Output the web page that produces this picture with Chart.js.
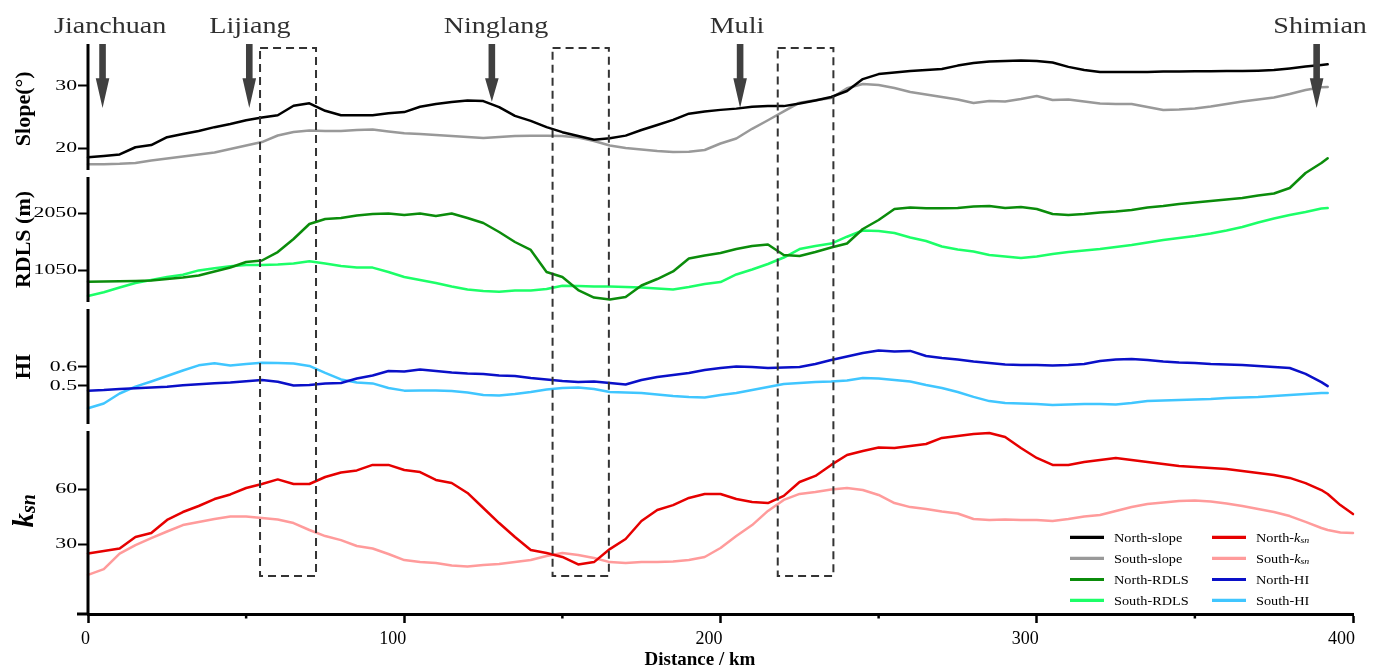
<!DOCTYPE html>
<html>
<head>
<meta charset="utf-8">
<script src="https://cdn.jsdelivr.net/npm/chart.js@4.4.1/dist/chart.umd.min.js"></script>
<style>
  html, body { margin: 0; padding: 0; background: #fff; }
  #wrap { width: 1386px; height: 671px; }
</style>
</head>
<body>
<div id="wrap"><canvas id="profile" width="1386" height="671"></canvas></div>
<script>
// Distance along the swath profile (km)
const distanceKm = [
  0, 5, 10, 15, 20, 25, 30, 35, 40, 45,
  50, 55, 60, 65, 70, 75, 80, 85, 90, 95,
  100, 105, 110, 115, 120, 125, 130, 135, 140, 145,
  150, 155, 160, 165, 170, 175, 180, 185, 190, 195,
  200, 205, 210, 215, 220, 225, 230, 235, 240, 245,
  250, 255, 260, 265, 270, 275, 280, 285, 290, 295,
  300, 305, 310, 315, 320, 325, 330, 335, 340, 345,
  350, 355, 360, 365, 370, 375, 380, 385, 390, 392, 396, 400
];

// Mean slope (degrees)
const northSlope = [
  18.6, 18.8, 19.05, 20.2, 20.55, 21.8, 22.3, 22.8, 23.4, 23.9,
  24.5, 24.95, 25.3, 26.8, 27.2, 26.0, 25.3, 25.3, 25.3, 25.6,
  25.8, 26.65, 27.1, 27.4, 27.65, 27.55, 26.6, 25.2, 24.4, 23.4,
  22.6, 22.0, 21.4, 21.65, 22.05, 22.95, 23.75, 24.55, 25.55, 25.9,
  26.15, 26.35, 26.65, 26.75, 26.75, 27.15, 27.65, 28.2, 29.15, 31.05,
  31.85, 32.1, 32.35, 32.5, 32.65, 33.2, 33.6, 33.85, 33.95, 34.0,
  33.95, 33.7, 33.0, 32.5, 32.2, 32.2, 32.2, 32.2, 32.25, 32.25,
  32.3, 32.3, 32.35, 32.35, 32.4, 32.5, 32.75, 33.05, 33.3, 33.4, null, null
];
const southSlope = [
  17.48, 17.5, 17.56, 17.7, 18.09, 18.41, 18.73, 19.04, 19.36, 19.92,
  20.48, 21.03, 22.07, 22.63, 22.87, 22.79, 22.79, 22.95, 23.03, 22.71,
  22.42, 22.3, 22.15, 21.99, 21.83, 21.67, 21.83, 21.99, 22.02, 22.04,
  21.99, 21.75, 21.19, 20.48, 20.08, 19.84, 19.6, 19.44, 19.49, 19.76,
  20.8, 21.6, 23.14, 24.5, 25.9, 27.3, 27.7, 28.05, 29.6, 30.27,
  30.11, 29.63, 29.0, 28.6, 28.2, 27.8, 27.25, 27.56, 27.48, 27.88,
  28.36, 27.72, 27.8, 27.48, 27.17, 27.09, 27.09, 26.6, 26.13, 26.21,
  26.37, 26.69, 27.09, 27.48, 27.8, 28.12, 28.68, 29.32, 29.75, 29.8, null, null
];

// Relief degree of land surface (m)
const northRdls = [
  844, 847, 852, 856, 865, 891, 918, 953, 1024, 1094,
  1191, 1218, 1367, 1597, 1861, 1950, 1967, 2011, 2038, 2046,
  2020, 2046, 2002, 2046, 1967, 1879, 1720, 1544, 1403, 1015,
  927, 697, 565, 530, 574, 777, 891, 1024, 1253, 1306,
  1350, 1420, 1473, 1500, 1315, 1297, 1367, 1447, 1517, 1773,
  1932, 2126, 2152, 2138, 2138, 2144, 2170, 2179, 2144, 2161,
  2126, 2038, 2020, 2038, 2064, 2082, 2108, 2152, 2179, 2214,
  2240, 2267, 2293, 2320, 2364, 2399, 2496, 2761, 2937, 3020, null, null
];
const southRdls = [
  591, 657, 741, 821, 874, 927, 967, 1043, 1080, 1115,
  1138, 1138, 1147, 1165, 1205, 1165, 1121, 1094, 1092, 1015,
  927, 874, 821, 759, 706, 680, 667, 688, 688, 715,
  773, 768, 759, 759, 750, 741, 724, 706, 750, 803,
  838, 971, 1059, 1156, 1270, 1420, 1473, 1517, 1637, 1747,
  1738, 1703, 1623, 1561, 1464, 1412, 1376, 1315, 1288, 1262,
  1288, 1332, 1367, 1394, 1420, 1456, 1491, 1535, 1579, 1614,
  1650, 1694, 1747, 1808, 1888, 1958, 2020, 2073, 2135, 2143, null, null
];

// Hypsometric integral
const northHi = [
  0.474, 0.477, 0.482, 0.487, 0.491, 0.495, 0.502, 0.508, 0.513, 0.517,
  0.523, 0.530, 0.521, 0.501, 0.504, 0.512, 0.514, 0.538, 0.554, 0.577,
  0.575, 0.585, 0.577, 0.569, 0.564, 0.562, 0.554, 0.551, 0.541, 0.533,
  0.525, 0.519, 0.522, 0.514, 0.506, 0.530, 0.546, 0.556, 0.567, 0.583,
  0.593, 0.601, 0.598, 0.593, 0.596, 0.598, 0.614, 0.635, 0.654, 0.672,
  0.685, 0.680, 0.683, 0.656, 0.646, 0.638, 0.627, 0.619, 0.612, 0.609,
  0.609, 0.606, 0.609, 0.614, 0.630, 0.638, 0.641, 0.635, 0.627, 0.622,
  0.619, 0.614, 0.612, 0.609, 0.604, 0.598, 0.593, 0.562, 0.519, 0.498, null, null
];
const southHi = [
  0.381, 0.406, 0.459, 0.495, 0.522, 0.551, 0.580, 0.607, 0.618, 0.606,
  0.614, 0.621, 0.619, 0.617, 0.604, 0.567, 0.533, 0.517, 0.512, 0.488,
  0.474, 0.475, 0.475, 0.472, 0.464, 0.451, 0.448, 0.456, 0.467, 0.480,
  0.488, 0.491, 0.483, 0.467, 0.464, 0.462, 0.454, 0.446, 0.441, 0.438,
  0.451, 0.462, 0.477, 0.493, 0.509, 0.514, 0.519, 0.522, 0.527, 0.541,
  0.538, 0.530, 0.522, 0.504, 0.488, 0.467, 0.441, 0.419, 0.409, 0.406,
  0.404, 0.398, 0.401, 0.404, 0.404, 0.401, 0.409, 0.419, 0.422, 0.425,
  0.427, 0.430, 0.435, 0.438, 0.441, 0.446, 0.451, 0.456, 0.462, 0.462, null, null
];

// Normalised channel steepness index
const northKsn = [
  25.0, 26.3, 27.7, 34.0, 36.2, 43.3, 47.6, 50.9, 54.7, 57.2,
  60.7, 62.9, 65.4, 62.9, 62.9, 66.7, 69.2, 70.3, 73.3, 73.3,
  70.5, 69.4, 65.1, 63.4, 58.0, 49.8, 41.6, 34.0, 26.9, 25.3,
  23.1, 19.0, 20.3, 27.4, 32.9, 42.7, 48.7, 51.4, 55.3, 57.4,
  57.4, 54.7, 53.1, 52.5, 56.4, 64.0, 67.3, 73.3, 78.7, 80.9,
  82.8, 82.5, 83.6, 84.7, 88.0, 89.1, 90.2, 90.7, 88.5, 82.5,
  77.1, 73.3, 73.3, 74.9, 76.0, 77.1, 76.0, 74.9, 73.8, 72.7,
  72.2, 71.6, 71.1, 70.0, 68.9, 67.8, 66.2, 63.4, 59.6, 57.4, 51.4, 46.5
];
const southKsn = [
  13.3, 16.5, 24.9, 29.6, 33.4, 37.0, 40.5, 42.2, 43.8, 45.2,
  45.2, 44.3, 43.5, 41.6, 37.8, 34.5, 32.3, 29.1, 27.7, 24.7,
  21.4, 20.3, 19.8, 18.4, 17.9, 18.7, 19.3, 20.3, 21.4, 23.6,
  25.3, 24.2, 22.5, 20.3, 19.8, 20.3, 20.3, 20.6, 21.4, 23.1,
  28.0, 34.5, 40.5, 48.2, 54.2, 57.5, 58.5, 59.9, 60.7, 59.6,
  56.9, 52.5, 50.3, 49.3, 47.9, 46.8, 43.8, 43.3, 43.5, 43.3,
  43.3, 42.7, 43.8, 45.2, 46.0, 48.2, 50.3, 52.0, 52.8, 53.6,
  53.9, 53.3, 52.3, 50.9, 49.3, 47.6, 45.4, 42.2, 38.9, 37.8, 36.4, 36.2
];

// Axis ticks
const xMajorTicks = [0, 100, 200, 300, 400];
const xMinorTicks = [50, 150, 250, 350];
const slopeTicks = [20, 30];
const rdlsTicks = [1050, 2050];
const hiTicks = [0.5, 0.6];
const ksnTicks = [30, 60];

// Towns along the profile and the three highlighted windows (km)
const placeNames = ['Jianchuan', 'Lijiang', 'Ninglang', 'Muli', 'Shimian'];
const placeKm = [4.6, 51.0, 127.7, 206.2, 388.5];
const placeLabelKm = [7.0, 51.2, 129.0, 205.2, 389.6];
const arrowTipSlope = [26.45, 26.45, 27.45, 26.45, 26.45];
const windowStartKm = [54.4, 146.9, 218.1];
const windowEndKm = [72.1, 164.7, 235.7];
const windowTopSlope = 36.0;
const windowBottomKsn = 12.7;

const SERIF = '"Liberation Serif", "Times New Roman", serif';
const toPoints = arr => distanceKm.map((d, i) => ({ x: d, y: arr[i] }));

function line(label, arr, color, axis) {
  return {
    label, data: toPoints(arr), yAxisID: axis, borderColor: color, backgroundColor: color,
    borderWidth: 2.5, pointRadius: 0, tension: 0, spanGaps: false, clip: false,
    borderJoinStyle: 'round', borderCapStyle: 'round'
  };
}

const datasets = [
  line('North-slope', northSlope, '#000000', 'slope'),
  line('South-slope', southSlope, '#999999', 'slope'),
  line('North-RDLS', northRdls, '#0b8c0b', 'rdls'),
  line('South-RDLS', southRdls, '#1cff68', 'rdls'),
  line('North-HI', northHi, '#0a10c8', 'hi'),
  line('South-HI', southHi, '#40c6ff', 'hi'),
  line('North-ksn', northKsn, '#e60000', 'ksn'),
  line('South-ksn', southKsn, '#ff9b9b', 'ksn')
];

function panelAxis(ticksArr, min, max, order, share, title) {
  return {
    type: 'linear', position: 'left', stack: 'profile', stackWeight: share, weight: order,
    min, max,
    afterBuildTicks: s => { s.ticks = ticksArr.map(v => ({ value: v })); },
    afterFit: s => { s.width = 88; },
    border: { display: false },
    grid: { drawOnChartArea: false, drawTicks: true, tickLength: 10, tickWidth: 2, tickColor: '#000' },
    ticks: { font: { family: SERIF, size: 15 }, color: '#000', padding: 1, callback: v => String(v) },
    title: title
      ? { display: true, text: title, color: '#000', font: { family: SERIF, size: 22, weight: 'bold' }, padding: { top: 11, bottom: 0 } }
      : { display: false }
  };
}

// Draws text squeezed/stretched horizontally around an anchor point
function stretchedText(ctx, text, x, y, font, sx, align) {
  ctx.save();
  ctx.translate(x, y);
  ctx.scale(sx, 1);
  ctx.font = font;
  ctx.textAlign = align || 'center';
  ctx.textBaseline = 'alphabetic';
  ctx.fillText(text, 0, 0);
  ctx.restore();
}

const decorations = {
  id: 'decorations',
  beforeDraw(chart) {
    const ctx = chart.ctx;
    ctx.save();
    ctx.fillStyle = '#fff';
    ctx.fillRect(0, 0, chart.width, chart.height);
    ctx.restore();
  },
  afterLayout(chart) {
    // widen the y tick numerals around their right edge
    for (const id of ['slope', 'rdls', 'hi', 'ksn']) {
      const s = chart.scales[id];
      if (!s || s._wide) continue;
      const orig = s.drawLabels;
      s.drawLabels = function (area) {
        const c = this.ctx;
        const ax = this.right - this.options.grid.tickLength - this.options.ticks.padding;
        c.save();
        c.translate(ax, 0); c.scale(1.45, 1); c.translate(-ax, 0);
        orig.call(this, area);
        c.restore();
      };
      s._wide = true;
    }
  },
  afterDraw(chart) {
    const ctx = chart.ctx;
    const xs = chart.scales.x;
    const ys = chart.scales.slope;
    const yk = chart.scales.ksn;
    const area = chart.chartArea;
    const panels = ['slope', 'rdls', 'hi', 'ksn'];

    ctx.save();
    // broken left spine, one piece per panel
    ctx.strokeStyle = '#000';
    ctx.lineWidth = 3;
    panels.forEach((id, i) => {
      const s = chart.scales[id];
      const top = s.top + (i === 0 ? 0 : 3.5);
      const bottom = s.bottom - (i === panels.length - 1 ? 0 : 3.5);
      ctx.beginPath();
      ctx.moveTo(area.left, top);
      ctx.lineTo(area.left, bottom);
      ctx.stroke();
    });
    // x axis runs a little past the spine
    ctx.beginPath();
    ctx.moveTo(area.left - 11, area.bottom);
    ctx.lineTo(area.left, area.bottom);
    ctx.stroke();
    // minor x ticks
    ctx.lineWidth = 2.5;
    xMinorTicks.forEach(v => {
      const px = xs.getPixelForValue(v);
      ctx.beginPath();
      ctx.moveTo(px, area.bottom);
      ctx.lineTo(px, area.bottom + 4.5);
      ctx.stroke();
    });

    // x axis title
    ctx.fillStyle = '#000';
    ctx.font = 'bold 19px ' + SERIF;
    ctx.textAlign = 'center';
    ctx.textBaseline = 'middle';
    ctx.fillText('Distance / km', xs.getPixelForValue(193.5), 660);

    // dashed windows
    ctx.strokeStyle = '#333';
    ctx.lineWidth = 2;
    ctx.setLineDash([8, 5]);
    const wTop = ys.getPixelForValue(windowTopSlope);
    const wBottom = yk.getPixelForValue(windowBottomKsn);
    windowStartKm.forEach((k, i) => {
      const l = xs.getPixelForValue(k);
      const r = xs.getPixelForValue(windowEndKm[i]);
      ctx.strokeRect(l, wTop, r - l, wBottom - wTop);
    });
    ctx.setLineDash([]);

    // town arrows and names
    ctx.fillStyle = '#404040';
    const aTop = ys.getPixelForValue(ys.max);
    const headStart = ys.getPixelForValue(31.2);
    placeKm.forEach((k, i) => {
      const px = xs.getPixelForValue(k);
      const tip = ys.getPixelForValue(arrowTipSlope[i]);
      const hs = Math.min(headStart, tip - 22);
      ctx.beginPath();
      ctx.moveTo(px - 3.3, aTop);
      ctx.lineTo(px + 3.3, aTop);
      ctx.lineTo(px + 3.3, hs);
      ctx.lineTo(px + 6.8, hs);
      ctx.lineTo(px, tip);
      ctx.lineTo(px - 6.8, hs);
      ctx.lineTo(px - 3.3, hs);
      ctx.closePath();
      ctx.fill();
    });
    ctx.fillStyle = '#303030';
    placeNames.forEach((name, i) => {
      stretchedText(ctx, name, xs.getPixelForValue(placeLabelKm[i]), 33, '24px ' + SERIF, 1.17, 'center');
    });

    // k_sn axis title
    const kc = (yk.top + yk.bottom) / 2 - 10;
    ctx.save();
    ctx.translate(33, kc);
    ctx.rotate(-Math.PI / 2);
    ctx.fillStyle = '#000';
    ctx.textBaseline = 'alphabetic';
    ctx.textAlign = 'left';
    ctx.font = 'italic bold 29px ' + SERIF;
    const wk = ctx.measureText('k').width;
    ctx.font = 'italic bold 20px ' + SERIF;
    const wsn = ctx.measureText('sn').width;
    const x0 = -(wk + wsn) / 2;
    ctx.font = 'italic bold 29px ' + SERIF;
    ctx.fillText('k', x0, 0);
    ctx.font = 'italic bold 20px ' + SERIF;
    ctx.fillText('sn', x0 + wk, 2);
    ctx.restore();

    // legend, two columns
    const cols = [[0, 1, 2, 3], [6, 7, 4, 5]];
    const colX = [1070, 1212];
    const rowY = [537.3, 558.3, 579.5, 600.3];
    cols.forEach((col, ci) => {
      col.forEach((di, ri) => {
        const ds = chart.data.datasets[di];
        const x = colX[ci];
        const y = rowY[ri];
        ctx.strokeStyle = ds.borderColor;
        ctx.lineWidth = 3.2;
        ctx.beginPath();
        ctx.moveTo(x, y);
        ctx.lineTo(x + 34, y);
        ctx.stroke();
        ctx.fillStyle = '#000';
        const tx = x + 44;
        const by = y + 4.5;
        if (ds.label.endsWith('ksn')) {
          const head = ds.label.slice(0, -3);
          ctx.save();
          ctx.translate(tx, by);
          ctx.scale(1.1, 1);
          ctx.textAlign = 'left';
          ctx.textBaseline = 'alphabetic';
          ctx.font = '13px ' + SERIF;
          ctx.fillText(head, 0, 0);
          let w = ctx.measureText(head).width;
          ctx.font = 'italic 13px ' + SERIF;
          ctx.fillText('k', w, 0);
          w += ctx.measureText('k').width;
          ctx.font = 'italic 9px ' + SERIF;
          ctx.fillText('sn', w, 1.5);
          ctx.restore();
        } else {
          stretchedText(ctx, ds.label, tx, by, '13px ' + SERIF, 1.1, 'left');
        }
      });
    });
    ctx.restore();
  }
};

new Chart(document.getElementById('profile'), {
  type: 'line',
  data: { datasets },
  plugins: [decorations],
  options: {
    responsive: false,
    animation: false,
    devicePixelRatio: 1,
    layout: { padding: { left: 0, right: 33, top: 44, bottom: 0 } },
    plugins: { legend: { display: false }, tooltip: { enabled: false } },
    scales: {
      x: {
        type: 'linear', position: 'bottom', min: 0, max: 400,
        afterBuildTicks: s => { s.ticks = xMajorTicks.map(v => ({ value: v })); },
        afterFit: s => { s.height = 57; },
        border: { display: true, color: '#000', width: 3 },
        grid: { drawOnChartArea: false, drawTicks: true, tickLength: 9, tickWidth: 2.5, tickColor: '#000' },
        ticks: { font: { family: SERIF, size: 18 }, color: '#000', align: 'end', labelOffset: 2, padding: 5, maxRotation: 0, callback: v => String(v) },
        title: { display: false, text: 'Distance / km' }
      },
      slope: panelAxis(slopeTicks, 16.02, 36.64, 4, 129.5, 'Slope(°)'),
      rdls: panelAxis(rdlsTicks, 424, 2752, 3, 132, 'RDLS (m)'),
      hi: panelAxis(hiTicks, 0.280, 0.922, 2, 122, 'HI'),
      ksn: panelAxis(ksnTicks, -8.0, 93.7, 1, 186.5, null)
    }
  }
});
</script>
</body>
</html>
